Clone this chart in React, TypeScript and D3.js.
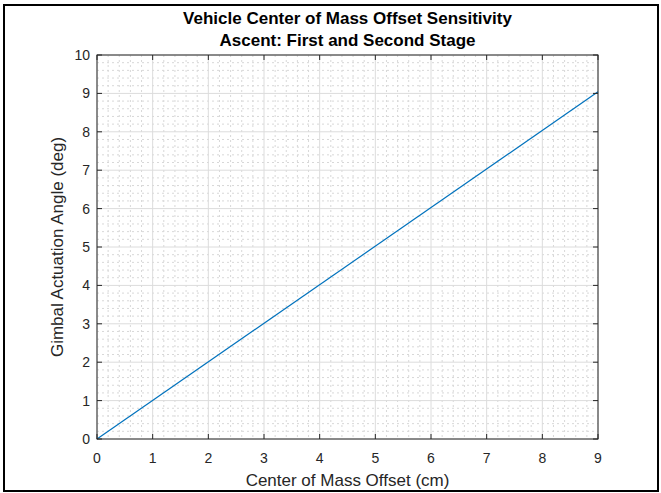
import React from "react";
import * as d3 from "d3";

const xValues = [0, 9];
const yValues = [0, 9.04];
const xTicks = [0, 1, 2, 3, 4, 5, 6, 7, 8, 9];
const yTicks = [0, 1, 2, 3, 4, 5, 6, 7, 8, 9, 10];
const titleLines = ["Vehicle Center of Mass Offset Sensitivity", "Ascent: First and Second Stage"];
const xLabel = "Center of Mass Offset (cm)";
const yLabel = "Gimbal Actuation Angle (deg)";

const W = 661, H = 493;
const L = 97, R = 598, T = 55, B = 439;
const FONT = "'Liberation Sans', Arial, Helvetica, sans-serif";

export default function App() {
  const x = d3.scaleLinear().domain([0, 9]).range([L, R]);
  const y = d3.scaleLinear().domain([0, 10]).range([B, T]);
  const xMinor = d3.range(0, 9.0001, 0.2).filter((v) => Math.abs(v - Math.round(v)) > 1e-6);
  const yMinor = d3.range(0, 10.0001, 0.2).filter((v) => Math.abs(v - Math.round(v)) > 1e-6);
  const line = d3.line<number>().x((_, i) => x(xValues[i])).y((d) => y(d));
  const tk = 5;
  return (
    <svg width={W} height={H} style={{ position: "absolute", left: 0, top: 0, background: "#fff" }} fontFamily={FONT}>
      <rect x={0} y={0} width={W} height={H} fill="#fff" />
      <rect x={4} y={5} width={654} height={486} fill="none" stroke="#000" strokeWidth={2} />
      {xMinor.map((v, i) => (
        <line key={"xm" + i} x1={x(v)} x2={x(v)} y1={T} y2={B} stroke="#d8d8d8" strokeWidth={1} strokeDasharray="2,3" />
      ))}
      {yMinor.map((v, i) => (
        <line key={"ym" + i} x1={L} x2={R} y1={y(v)} y2={y(v)} stroke="#d8d8d8" strokeWidth={1} strokeDasharray="2,3" />
      ))}
      {xTicks.map((v) => (
        <line key={"xg" + v} x1={x(v)} x2={x(v)} y1={T} y2={B} stroke="#dcdcdc" strokeWidth={1} />
      ))}
      {yTicks.map((v) => (
        <line key={"yg" + v} x1={L} x2={R} y1={y(v)} y2={y(v)} stroke="#dcdcdc" strokeWidth={1} />
      ))}
      <path d={line(yValues) || ""} fill="none" stroke="#0072BD" strokeWidth={1.2} />
      <rect x={L} y={T} width={R - L} height={B - T} fill="none" stroke="#262626" strokeWidth={1} />
      {xTicks.map((v) => (
        <g key={"xt" + v}>
          <line x1={x(v)} x2={x(v)} y1={B} y2={B - tk} stroke="#262626" />
          <line x1={x(v)} x2={x(v)} y1={T} y2={T + tk} stroke="#262626" />
          <text x={x(v)} y={463} textAnchor="middle" fontSize={14} fill="#262626">{v}</text>
        </g>
      ))}
      {yTicks.map((v) => (
        <g key={"yt" + v}>
          <line x1={L} x2={L + tk} y1={y(v)} y2={y(v)} stroke="#262626" />
          <line x1={R} x2={R - tk} y1={y(v)} y2={y(v)} stroke="#262626" />
          <text x={90} y={y(v) + 5} textAnchor="end" fontSize={14} fill="#262626">{v}</text>
        </g>
      ))}
      {titleLines.map((t, i) => (
        <text key={t} x={(L + R) / 2} y={24 + i * 22} textAnchor="middle" fontSize={17} fontWeight="bold" fill="#000">{t}</text>
      ))}
      <text x={(L + R) / 2} y={486} textAnchor="middle" fontSize={17} fill="#262626">{xLabel}</text>
      <text transform={`translate(63,${(T + B) / 2}) rotate(-90)`} textAnchor="middle" fontSize={17} fill="#262626">{yLabel}</text>
    </svg>
  );
}
